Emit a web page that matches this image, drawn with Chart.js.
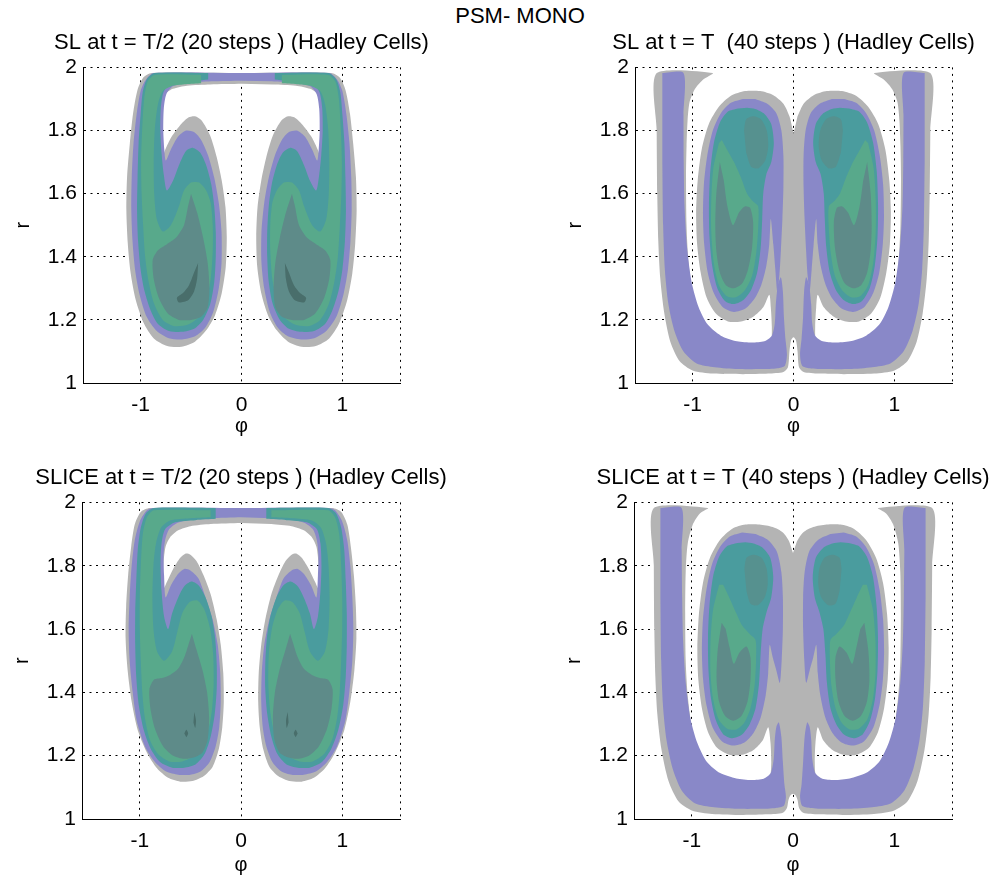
<!DOCTYPE html>
<html>
<head>
<meta charset="utf-8">
<title>PSM- MONO</title>
<script src="https://cdn.jsdelivr.net/npm/chart.js@4.4.1/dist/chart.umd.min.js"></script>
<style>
  html, body { margin: 0; padding: 0; background: #fff; overflow: hidden; }
  body { width: 997px; height: 877px; position: relative; font-family: 'Liberation Sans', Arial, sans-serif; }
  #suptitle { position: absolute; left: 420px; width: 200px; top: 3px; text-align: center; font-size: 22px; line-height: 26px; color: #000; }
  canvas { position: absolute; }
</style>
</head>
<body>
<div id="suptitle">PSM- MONO</div>
<canvas id="slHalf" width="483" height="417" style="left:0px;top:24px"></canvas>
<canvas id="slFull" width="483" height="417" style="left:552px;top:24px"></canvas>
<canvas id="sliceHalf" width="484" height="418" style="left:-1px;top:459px"></canvas>
<canvas id="sliceFull" width="484" height="418" style="left:551px;top:459px"></canvas>
<script>
// Axes
const phiTicks = [-1, 0, 1];
const rTicks = [1, 1.2, 1.4, 1.6, 1.8, 2];
const phiRange = [-Math.PI / 2, Math.PI / 2];
const rRange = [1, 2];

// Contour outlines [phi, r] for the western cell (phi <= 0).
// The eastern cell is its mirror image.

// SL, t = T/2
const slHalfGray = [[0,1.948],[-0.31,1.946],[-0.54,1.942],[-0.68,1.932],[-0.75,1.917],[-0.786,1.885],[-0.793,1.832],[-0.789,1.758],[-0.776,1.721],[-0.759,1.737],[-0.693,1.78],[-0.61,1.816],[-0.527,1.841],[-0.461,1.845],[-0.395,1.832],[-0.312,1.785],[-0.246,1.716],[-0.196,1.642],[-0.159,1.558],[-0.146,1.463],[-0.156,1.368],[-0.196,1.284],[-0.262,1.215],[-0.352,1.166],[-0.461,1.131],[-0.594,1.115],[-0.736,1.117],[-0.869,1.141],[-0.968,1.189],[-1.048,1.263],[-1.098,1.347],[-1.127,1.442],[-1.141,1.547],[-1.134,1.653],[-1.107,1.758],[-1.075,1.853],[-1.032,1.927],[-0.975,1.967],[-0.89,1.982],[0,1.982]];
const slHalfPurple = [[0,1.958],[-0.3,1.956],[-0.55,1.95],[-0.68,1.94],[-0.745,1.915],[-0.77,1.87],[-0.775,1.8],[-0.765,1.74],[-0.75,1.705],[-0.7,1.74],[-0.63,1.78],[-0.55,1.8],[-0.47,1.795],[-0.4,1.77],[-0.33,1.72],[-0.27,1.65],[-0.225,1.57],[-0.198,1.48],[-0.198,1.38],[-0.225,1.3],[-0.28,1.225],[-0.36,1.175],[-0.46,1.148],[-0.59,1.138],[-0.72,1.142],[-0.84,1.165],[-0.94,1.21],[-1.01,1.28],[-1.055,1.36],[-1.08,1.45],[-1.092,1.55],[-1.088,1.65],[-1.07,1.76],[-1.04,1.85],[-1.0,1.925],[-0.95,1.96],[-0.87,1.982],[0,1.982]];
const slHalfTeal = [[-0.33,1.982],[-0.86,1.982],[-0.94,1.962],[-0.98,1.92],[-1.0,1.85],[-1.02,1.76],[-1.03,1.65],[-1.035,1.55],[-1.025,1.45],[-1.0,1.36],[-0.96,1.29],[-0.9,1.23],[-0.83,1.188],[-0.72,1.165],[-0.59,1.162],[-0.47,1.172],[-0.38,1.2],[-0.31,1.25],[-0.27,1.32],[-0.255,1.4],[-0.255,1.48],[-0.27,1.56],[-0.3,1.63],[-0.35,1.69],[-0.41,1.73],[-0.48,1.745],[-0.55,1.735],[-0.62,1.69],[-0.68,1.64],[-0.74,1.61],[-0.77,1.66],[-0.79,1.72],[-0.805,1.8],[-0.8,1.87],[-0.775,1.92],[-0.72,1.945],[-0.6,1.955],[-0.45,1.958],[-0.33,1.962]];
const slHalfGreen = [[-0.4,1.976],[-0.86,1.976],[-0.93,1.955],[-0.965,1.9],[-0.985,1.8],[-0.995,1.7],[-0.99,1.6],[-0.975,1.5],[-0.955,1.4],[-0.92,1.32],[-0.865,1.25],[-0.78,1.2],[-0.66,1.18],[-0.53,1.185],[-0.42,1.21],[-0.35,1.26],[-0.305,1.33],[-0.285,1.42],[-0.285,1.5],[-0.305,1.57],[-0.35,1.61],[-0.42,1.635],[-0.5,1.635],[-0.57,1.61],[-0.62,1.56],[-0.7,1.5],[-0.78,1.48],[-0.84,1.52],[-0.865,1.6],[-0.87,1.7],[-0.86,1.8],[-0.83,1.88],[-0.78,1.925],[-0.68,1.942],[-0.55,1.947],[-0.4,1.95]];
const slHalfSlate = [[-0.5,1.6],[-0.44,1.54],[-0.38,1.46],[-0.335,1.38],[-0.318,1.3],[-0.335,1.24],[-0.4,1.21],[-0.5,1.2],[-0.62,1.2],[-0.73,1.22],[-0.82,1.27],[-0.87,1.33],[-0.88,1.39],[-0.83,1.42],[-0.74,1.44],[-0.65,1.46],[-0.57,1.5],[-0.53,1.56]];
const slHalfCore = [[-0.43,1.38],[-0.44,1.33],[-0.47,1.29],[-0.53,1.262],[-0.62,1.255],[-0.64,1.27],[-0.58,1.285],[-0.52,1.31],[-0.47,1.35]];

// SL, t = T
const slFullGray = [[0,1.79],[-0.04,1.845],[-0.1,1.885],[-0.2,1.912],[-0.33,1.925],[-0.48,1.925],[-0.62,1.91],[-0.74,1.875],[-0.84,1.82],[-0.91,1.74],[-0.95,1.64],[-0.965,1.54],[-0.955,1.44],[-0.92,1.35],[-0.86,1.27],[-0.77,1.22],[-0.65,1.195],[-0.52,1.195],[-0.4,1.21],[-0.3,1.24],[-0.24,1.28],[-0.225,1.24],[-0.215,1.18],[-0.22,1.13],[-0.26,1.1],[-0.4,1.09],[-0.55,1.09],[-0.7,1.105],[-0.83,1.14],[-0.93,1.2],[-1.0,1.28],[-1.04,1.38],[-1.06,1.5],[-1.065,1.65],[-1.06,1.75],[-1.05,1.83],[-1.03,1.89],[-0.98,1.93],[-0.9,1.96],[-0.8,1.982],[-1.356,1.982],[-1.356,1.8],[-1.35,1.6],[-1.34,1.45],[-1.32,1.33],[-1.28,1.22],[-1.22,1.13],[-1.13,1.07],[-1.0,1.04],[-0.8,1.03],[-0.5,1.028],[-0.25,1.03],[-0.1,1.035],[-0.055,1.05],[-0.04,1.1],[-0.025,1.135],[0,1.145]];
const slFullBandC = [[-1.3,1.982],[-1.09,1.982],[-1.09,1.85],[-1.088,1.7],[-1.08,1.56],[-1.055,1.43],[-1.01,1.32],[-0.94,1.24],[-0.85,1.185],[-0.72,1.15],[-0.56,1.132],[-0.41,1.128],[-0.29,1.132],[-0.215,1.15],[-0.185,1.19],[-0.175,1.25],[-0.155,1.31],[-0.125,1.335],[-0.105,1.29],[-0.095,1.21],[-0.08,1.14],[-0.065,1.09],[-0.085,1.055],[-0.16,1.047],[-0.32,1.044],[-0.55,1.044],[-0.78,1.05],[-0.96,1.062],[-1.09,1.1],[-1.18,1.165],[-1.24,1.25],[-1.275,1.36],[-1.292,1.5],[-1.3,1.7]];
const slFullPurple = [[-0.5,1.9],[-0.62,1.888],[-0.72,1.855],[-0.8,1.8],[-0.855,1.72],[-0.888,1.63],[-0.897,1.53],[-0.885,1.44],[-0.85,1.35],[-0.79,1.285],[-0.7,1.24],[-0.59,1.225],[-0.48,1.235],[-0.39,1.265],[-0.32,1.31],[-0.27,1.37],[-0.24,1.44],[-0.225,1.52],[-0.2,1.44],[-0.18,1.36],[-0.16,1.29],[-0.14,1.34],[-0.125,1.42],[-0.11,1.52],[-0.1,1.62],[-0.1,1.72],[-0.12,1.8],[-0.17,1.855],[-0.26,1.885],[-0.38,1.9]];
const slFullTeal = [[-0.55,1.87],[-0.65,1.86],[-0.73,1.825],[-0.79,1.76],[-0.825,1.67],[-0.838,1.56],[-0.832,1.46],[-0.805,1.37],[-0.755,1.3],[-0.68,1.26],[-0.59,1.25],[-0.5,1.262],[-0.42,1.295],[-0.36,1.35],[-0.325,1.43],[-0.31,1.52],[-0.3,1.6],[-0.27,1.66],[-0.22,1.7],[-0.195,1.76],[-0.22,1.82],[-0.29,1.853],[-0.38,1.868],[-0.46,1.872]];
const slFullGreen = [[-0.74,1.76],[-0.795,1.68],[-0.815,1.58],[-0.815,1.48],[-0.79,1.38],[-0.74,1.31],[-0.66,1.275],[-0.57,1.272],[-0.48,1.295],[-0.41,1.34],[-0.37,1.41],[-0.35,1.49],[-0.35,1.56],[-0.4,1.575],[-0.46,1.6],[-0.52,1.65],[-0.59,1.7],[-0.66,1.74],[-0.71,1.77]];
const slFullSlate = [[-0.73,1.7],[-0.765,1.6],[-0.775,1.5],[-0.765,1.42],[-0.73,1.35],[-0.67,1.31],[-0.59,1.3],[-0.51,1.315],[-0.45,1.36],[-0.41,1.43],[-0.4,1.51],[-0.43,1.555],[-0.48,1.56],[-0.54,1.54],[-0.6,1.5],[-0.655,1.56],[-0.69,1.64]];
const slFullCrest = [[-0.49,1.8],[-0.47,1.835],[-0.4,1.845],[-0.32,1.835],[-0.265,1.8],[-0.25,1.75],[-0.28,1.705],[-0.35,1.68],[-0.42,1.685],[-0.47,1.73]];

// SLICE, t = T/2
const sliceHalfGray = [[0,1.935],[-0.3,1.932],[-0.5,1.925],[-0.62,1.912],[-0.7,1.89],[-0.745,1.86],[-0.765,1.81],[-0.77,1.76],[-0.765,1.728],[-0.73,1.75],[-0.67,1.79],[-0.6,1.825],[-0.55,1.838],[-0.5,1.835],[-0.44,1.815],[-0.37,1.77],[-0.3,1.71],[-0.24,1.63],[-0.2,1.55],[-0.175,1.46],[-0.17,1.37],[-0.185,1.29],[-0.22,1.22],[-0.28,1.165],[-0.37,1.135],[-0.48,1.12],[-0.6,1.118],[-0.72,1.13],[-0.83,1.16],[-0.93,1.21],[-1.02,1.28],[-1.08,1.37],[-1.12,1.47],[-1.14,1.57],[-1.135,1.67],[-1.115,1.77],[-1.085,1.86],[-1.05,1.93],[-0.99,1.97],[-0.9,1.982],[0,1.982]];
const sliceHalfPurple = [[0,1.953],[-0.3,1.95],[-0.5,1.945],[-0.63,1.935],[-0.71,1.915],[-0.75,1.88],[-0.765,1.83],[-0.76,1.77],[-0.745,1.7],[-0.69,1.74],[-0.62,1.775],[-0.56,1.79],[-0.5,1.785],[-0.42,1.76],[-0.35,1.7],[-0.28,1.63],[-0.23,1.55],[-0.205,1.46],[-0.2,1.37],[-0.215,1.29],[-0.25,1.23],[-0.31,1.18],[-0.4,1.15],[-0.5,1.14],[-0.62,1.14],[-0.74,1.15],[-0.85,1.18],[-0.95,1.23],[-1.03,1.31],[-1.07,1.4],[-1.1,1.5],[-1.11,1.6],[-1.1,1.7],[-1.08,1.8],[-1.05,1.88],[-1.0,1.94],[-0.93,1.975],[-0.87,1.982],[0,1.982]];
const sliceHalfTeal = [[-0.25,1.982],[-0.86,1.982],[-0.94,1.965],[-0.99,1.92],[-1.02,1.85],[-1.035,1.75],[-1.045,1.65],[-1.045,1.55],[-1.035,1.45],[-1.01,1.36],[-0.96,1.28],[-0.89,1.22],[-0.8,1.18],[-0.68,1.162],[-0.56,1.162],[-0.45,1.172],[-0.36,1.205],[-0.3,1.26],[-0.26,1.33],[-0.24,1.41],[-0.24,1.49],[-0.255,1.57],[-0.29,1.64],[-0.35,1.7],[-0.42,1.738],[-0.49,1.75],[-0.56,1.735],[-0.62,1.7],[-0.68,1.65],[-0.72,1.6],[-0.76,1.64],[-0.785,1.72],[-0.795,1.8],[-0.785,1.87],[-0.75,1.915],[-0.65,1.937],[-0.45,1.944],[-0.25,1.948]];
const sliceHalfGreen = [[-0.3,1.975],[-0.86,1.975],[-0.93,1.952],[-0.97,1.9],[-0.99,1.8],[-1.0,1.7],[-1.0,1.6],[-0.99,1.5],[-0.975,1.4],[-0.95,1.32],[-0.9,1.25],[-0.82,1.205],[-0.71,1.182],[-0.58,1.182],[-0.47,1.198],[-0.39,1.232],[-0.32,1.285],[-0.285,1.35],[-0.27,1.43],[-0.275,1.52],[-0.305,1.6],[-0.36,1.66],[-0.43,1.69],[-0.51,1.685],[-0.58,1.65],[-0.63,1.59],[-0.68,1.53],[-0.76,1.5],[-0.83,1.53],[-0.865,1.6],[-0.875,1.7],[-0.865,1.8],[-0.84,1.87],[-0.79,1.92],[-0.7,1.943],[-0.5,1.95],[-0.3,1.953]];
const sliceHalfSlate = [[-0.485,1.585],[-0.44,1.535],[-0.38,1.47],[-0.335,1.4],[-0.315,1.32],[-0.33,1.25],[-0.38,1.21],[-0.46,1.195],[-0.56,1.19],[-0.67,1.2],[-0.77,1.23],[-0.85,1.285],[-0.895,1.35],[-0.905,1.41],[-0.86,1.44],[-0.78,1.445],[-0.7,1.455],[-0.62,1.475],[-0.555,1.515],[-0.515,1.555]];
const sliceHalfDotA = [[-0.56,1.27],[-0.54,1.282],[-0.522,1.27],[-0.54,1.258]];
const sliceHalfDotB = [[-0.462,1.338],[-0.445,1.312],[-0.452,1.288],[-0.47,1.305]];

// SLICE, t = T
const sliceFullGray = [[0,1.84],[-0.04,1.878],[-0.1,1.905],[-0.2,1.922],[-0.33,1.93],[-0.47,1.93],[-0.6,1.917],[-0.72,1.882],[-0.82,1.825],[-0.89,1.745],[-0.93,1.645],[-0.945,1.54],[-0.935,1.44],[-0.9,1.35],[-0.84,1.275],[-0.75,1.225],[-0.63,1.203],[-0.5,1.203],[-0.39,1.218],[-0.3,1.248],[-0.245,1.29],[-0.222,1.24],[-0.215,1.18],[-0.225,1.135],[-0.27,1.108],[-0.4,1.097],[-0.55,1.097],[-0.7,1.112],[-0.83,1.148],[-0.93,1.208],[-1.0,1.29],[-1.04,1.39],[-1.06,1.5],[-1.065,1.65],[-1.06,1.78],[-1.04,1.87],[-0.99,1.93],[-0.92,1.965],[-0.84,1.982],[-1.375,1.982],[-1.375,1.8],[-1.37,1.6],[-1.36,1.45],[-1.34,1.33],[-1.3,1.22],[-1.23,1.12],[-1.13,1.055],[-1.0,1.027],[-0.8,1.016],[-0.5,1.013],[-0.25,1.015],[-0.1,1.02],[-0.06,1.035],[-0.045,1.06],[-0.025,1.075],[0,1.08]];
const sliceFullBandC = [[-1.31,1.982],[-1.1,1.982],[-1.1,1.85],[-1.095,1.7],[-1.085,1.56],[-1.06,1.43],[-1.015,1.32],[-0.945,1.24],[-0.85,1.18],[-0.72,1.145],[-0.56,1.128],[-0.41,1.123],[-0.29,1.127],[-0.22,1.145],[-0.19,1.19],[-0.18,1.25],[-0.165,1.29],[-0.14,1.305],[-0.115,1.26],[-0.1,1.18],[-0.085,1.11],[-0.07,1.07],[-0.09,1.042],[-0.17,1.035],[-0.33,1.032],[-0.55,1.032],[-0.78,1.037],[-0.97,1.05],[-1.1,1.09],[-1.19,1.16],[-1.25,1.25],[-1.285,1.36],[-1.302,1.5],[-1.31,1.7]];
const sliceFullPurple = [[-0.5,1.905],[-0.62,1.893],[-0.72,1.86],[-0.8,1.805],[-0.855,1.725],[-0.89,1.63],[-0.9,1.53],[-0.888,1.44],[-0.855,1.36],[-0.795,1.29],[-0.7,1.245],[-0.59,1.232],[-0.48,1.242],[-0.39,1.272],[-0.32,1.32],[-0.27,1.39],[-0.245,1.46],[-0.23,1.55],[-0.2,1.51],[-0.165,1.47],[-0.13,1.43],[-0.112,1.5],[-0.1,1.6],[-0.1,1.7],[-0.115,1.78],[-0.16,1.845],[-0.25,1.882],[-0.37,1.9]];
const sliceFullTeal = [[-0.55,1.872],[-0.65,1.862],[-0.73,1.828],[-0.79,1.765],[-0.825,1.675],[-0.84,1.57],[-0.835,1.47],[-0.81,1.38],[-0.76,1.31],[-0.69,1.268],[-0.6,1.255],[-0.51,1.265],[-0.43,1.298],[-0.37,1.35],[-0.335,1.43],[-0.32,1.52],[-0.3,1.6],[-0.26,1.655],[-0.215,1.7],[-0.195,1.765],[-0.225,1.825],[-0.3,1.857],[-0.39,1.87],[-0.47,1.874]];
const sliceFullGreen = [[-0.73,1.74],[-0.79,1.66],[-0.815,1.56],[-0.815,1.46],[-0.79,1.38],[-0.735,1.315],[-0.65,1.285],[-0.56,1.283],[-0.48,1.305],[-0.42,1.35],[-0.38,1.42],[-0.365,1.5],[-0.37,1.565],[-0.43,1.585],[-0.5,1.61],[-0.56,1.65],[-0.63,1.7],[-0.69,1.74]];
const sliceFullSlate = [[-0.705,1.62],[-0.745,1.53],[-0.755,1.44],[-0.73,1.37],[-0.67,1.325],[-0.59,1.31],[-0.51,1.325],[-0.45,1.37],[-0.42,1.44],[-0.42,1.51],[-0.46,1.545],[-0.53,1.525],[-0.585,1.49],[-0.625,1.54],[-0.665,1.6]];
const sliceFullCrest = [[-0.48,1.79],[-0.46,1.825],[-0.39,1.835],[-0.31,1.825],[-0.26,1.79],[-0.25,1.74],[-0.28,1.7],[-0.35,1.675],[-0.42,1.68],[-0.46,1.72]];

// fill colours, lowest level first
const shade = {
  gray: '#b4b4b4',
  purple: '#8988c8',
  teal: '#4a9c9e',
  green: '#58a98b',
  crest: '#56918f',
  slate: '#5e8b89',
  dark: '#496e6b'
};

const fontFamily = "'Liberation Sans', Arial, Helvetica, sans-serif";
Chart.defaults.font.family = fontFamily;
Chart.defaults.color = '#000';

// shapes crossing phi = 0 are closed through their mirror image
function joined(half) {
  const back = half.slice().reverse().map(([x, y]) => [-x, y]);
  return [half.concat(back.slice(1, -1))];
}

// separate western and eastern cells
function mirrored(half) {
  return [half, half.map(([x, y]) => [-x, y])];
}

const panels = [
  {
    id: 'slHalf', title: 'SL at t = T/2 (20 steps ) (Hadley Cells)', phiPad: 3,
    layers: [
      ['gray', joined(slHalfGray)],
      ['purple', joined(slHalfPurple)],
      ['teal', mirrored(slHalfTeal)],
      ['green', mirrored(slHalfGreen)],
      ['slate', mirrored(slHalfSlate)],
      ['dark', mirrored(slHalfCore)]
    ]
  },
  {
    id: 'slFull', title: 'SL at t = T  (40 steps ) (Hadley Cells)', phiPad: 3,
    layers: [
      ['gray', joined(slFullGray)],
      ['purple', mirrored(slFullBandC)],
      ['purple', mirrored(slFullPurple)],
      ['teal', mirrored(slFullTeal)],
      ['green', mirrored(slFullGreen)],
      ['slate', mirrored(slFullSlate)],
      ['crest', mirrored(slFullCrest)]
    ]
  },
  {
    id: 'sliceHalf', title: 'SLICE at t = T/2 (20 steps ) (Hadley Cells)', phiPad: 0,
    layers: [
      ['gray', joined(sliceHalfGray)],
      ['purple', joined(sliceHalfPurple)],
      ['teal', mirrored(sliceHalfTeal)],
      ['green', mirrored(sliceHalfGreen)],
      ['slate', mirrored(sliceHalfSlate)],
      ['dark', mirrored(sliceHalfDotA)],
      ['dark', mirrored(sliceHalfDotB)]
    ]
  },
  {
    id: 'sliceFull', title: 'SLICE at t = T (40 steps ) (Hadley Cells)', phiPad: 0,
    layers: [
      ['gray', joined(sliceFullGray)],
      ['purple', mirrored(sliceFullBandC)],
      ['purple', mirrored(sliceFullPurple)],
      ['teal', mirrored(sliceFullTeal)],
      ['green', mirrored(sliceFullGreen)],
      ['slate', mirrored(sliceFullSlate)],
      ['crest', mirrored(sliceFullCrest)]
    ]
  }
];

const gridStyle = { color: '#000', lineWidth: 1, drawTicks: false, borderDash: [2, 4.5] };
const borderStyle = { display: true, color: '#000', width: 1, dash: [2, 4.5] };

function buildPanel(p) {
  const datasets = [];
  p.layers.forEach(([tone, polys]) => {
    polys.forEach(poly => {
      datasets.push({
        data: poly.map(([x, y]) => ({ x, y })),
        showLine: true,
        fill: 'shape',
        tension: 0.25,
        backgroundColor: shade[tone],
        borderColor: shade[tone],
        borderWidth: 0,
        pointRadius: 0,
        pointHoverRadius: 0
      });
    });
  });
  // first layer is painted first
  datasets.forEach((d, i) => { d.order = datasets.length - i; });

  return new Chart(document.getElementById(p.id), {
    type: 'scatter',
    data: { datasets },
    options: {
      responsive: false,
      animation: false,
      events: [],
      layout: { padding: 0 },
      plugins: {
        legend: { display: false },
        tooltip: { enabled: false },
        title: {
          display: true,
          text: p.title,
          color: '#000',
          font: { family: fontFamily, size: 22, weight: 'normal' },
          padding: { top: 6, bottom: 11 }
        }
      },
      scales: {
        x: {
          type: 'linear',
          min: phiRange[0],
          max: phiRange[1],
          z: 1,
          afterBuildTicks: s => { s.ticks = [phiRange[0], ...phiTicks, phiRange[1]].map(value => ({ value })); },
          afterFit: s => { s.height = 58; },
          ticks: {
            autoSkip: false, maxRotation: 0, minRotation: 0, padding: 10, color: '#000',
            font: { family: fontFamily, size: 21 },
            callback: v => phiTicks.includes(v) ? String(v) : ''
          },
          grid: gridStyle,
          border: borderStyle,
          title: {
            display: true, text: 'φ', color: '#000',
            font: { family: fontFamily, size: 20 },
            padding: { top: 0, bottom: p.phiPad }
          }
        },
        y: {
          type: 'linear',
          min: rRange[0],
          max: rRange[1],
          z: 1,
          afterBuildTicks: s => { s.ticks = rTicks.map(value => ({ value })); },
          afterFit: s => { s.width = 83; },
          ticks: {
            autoSkip: false, padding: 6, color: '#000',
            font: { family: fontFamily, size: 21 },
            callback: v => String(v)
          },
          grid: gridStyle,
          border: borderStyle,
          title: {
            display: true, text: 'r', color: '#000',
            font: { family: fontFamily, size: 20 },
            padding: { top: 11, bottom: 0 }
          }
        },
        // empty right margin so the title centres over the axes
        yRight: {
          type: 'linear',
          position: 'right',
          display: true,
          afterFit: s => { s.width = 83; },
          ticks: { display: false },
          grid: { display: false, drawOnChartArea: false },
          border: { display: false }
        }
      }
    }
  });
}

panels.forEach(buildPanel);
</script>
</body>
</html>
